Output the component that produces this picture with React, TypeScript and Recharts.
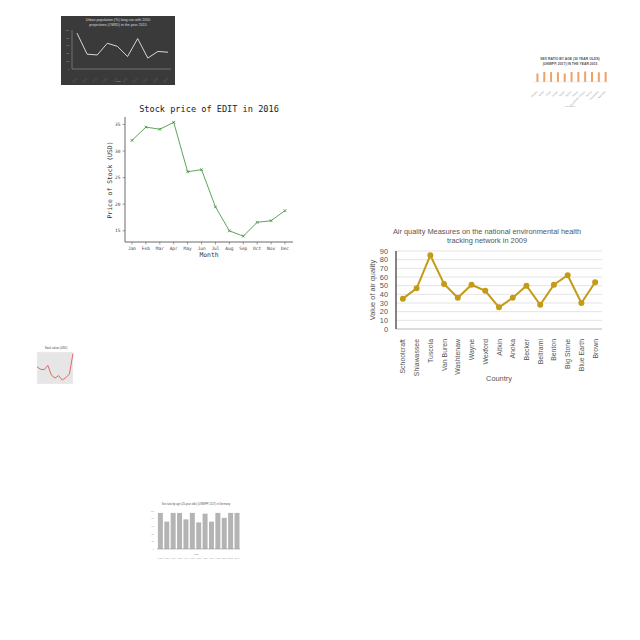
import React from 'react'
import { LineChart, Line, BarChart, Bar, XAxis, YAxis, CartesianGrid } from 'recharts'

// stock chart
const months = ['Jan', 'Feb', 'Mar', 'Apr', 'May', 'Jun', 'Jul', 'Aug', 'Sep', 'Oct', 'Nov', 'Dec']
const stockPrice = [32, 34.5, 34.1, 35.4, 26.1, 26.5, 19.5, 15, 14, 16.6, 16.9, 18.8]
const stockTicks = [15, 20, 25, 30, 35]

// air quality chart
const counties = ['Schoolcraft', 'Shiawassee', 'Tuscola', 'Van Buren', 'Washtenaw', 'Wayne', 'Wexford', 'Aitkin', 'Anoka', 'Becker', 'Beltrami', 'Benton', 'Big Stone', 'Blue Earth', 'Brown']
const airValues = [35, 47, 85, 52, 36, 51, 44, 25, 36, 50, 28, 51, 62, 30, 54]
const airTicks = [0, 10, 20, 30, 40, 50, 60, 70, 80, 90]

// thumbnails
const urbanYears = ['1950', '1960', '1970', '1980', '1990', '2000', '2010', '2020', '2030', '2040']
const urbanValues = [92, 38, 36, 66, 58, 32, 78, 28, 45, 43]
const sexGroups = ['Angola', 'Benin', 'Chad', 'Congo', 'Egypt', 'Gabon', 'Ghana', 'Equatorial Guinea', 'Kenya', 'Mauritania', 'Namibia']
const sexRatio = [0.86, 1.01, 0.99, 0.97, 0.85, 1.0, 0.99, 1.05, 1.0, 0.97, 1.0]
const redIdx = ['1', '2', '3', '4', '5', '6', '7', '8', '9', '10', '11']
const redValues = [35, 30, 29, 38, 18, 12, 17, 8, 13, 20, 62]
const grayCats = ['1950', '1955', '1960', '1965', '1970', '1975', '1980', '1985', '1990', '1995', '2000', '2005', '2010']
const grayValues = [95, 72, 95, 95, 78, 95, 70, 93, 72, 95, 82, 95, 95]

const stockData = months.map((m, i) => ({ m, v: stockPrice[i] }))
const airData = counties.map((c, i) => ({ c, v: airValues[i] }))
const urbanData = urbanYears.map((y, i) => ({ y, v: urbanValues[i] }))
const sexData = sexGroups.map((g, i) => ({ g, v: sexRatio[i] }))
const redData = redIdx.map((x, i) => ({ x, v: redValues[i] }))
const grayData = grayCats.map((c, i) => ({ c, v: grayValues[i] }))

const mono = '"DejaVu Sans Mono", monospace'
const sans = '"Liberation Sans", Arial, sans-serif'

const XMark = (p: any) => {
  const { cx, cy, index } = p
  if (cx == null) return null
  const s = 1.4
  return <path key={index} d={`M${cx - s},${cy - s}L${cx + s},${cy + s}M${cx - s},${cy + s}L${cx + s},${cy - s}`} stroke="#3f8f3f" strokeWidth={0.8} />
}

const RotTick = (p: any) => {
  const { x, y, payload } = p
  return (
    <text x={x} y={y + 2} transform={`rotate(-90 ${x} ${y + 2})`} textAnchor="end" dominantBaseline="central" fontSize={6.9} fill="#555" fontFamily={sans}>
      {payload.value}
    </text>
  )
}

const DiagTick = (p: any) => {
  const { x, y, payload, fill } = p
  return (
    <text x={x} y={y + 2} transform={`rotate(-45 ${x} ${y + 2})`} textAnchor="end" fontSize={2.5} fill={fill || '#ccc'} fontFamily={sans}>
      {payload.value}
    </text>
  )
}

const abs = (left: number, top: number, extra: React.CSSProperties = {}): React.CSSProperties => ({ position: 'absolute', left, top, ...extra })

export default function App() {
  return (
    <div style={{ position: 'absolute', left: 0, top: 0, width: 640, height: 640 }}>
      {/* dark urban chart */}
      <div style={abs(61, 16, { width: 114, height: 69, background: '#3a3a3a' })}>
        <div style={{ position: 'absolute', top: 2, width: 114, textAlign: 'center', color: '#ddd', fontSize: 3.6, lineHeight: '5px', fontFamily: sans }}>
          Urban population (%) long-run with 2050<br />projections (OWID) to the year 2015
        </div>
        <div style={{ position: 'absolute', top: 64, width: 114, textAlign: 'center', color: '#bbb', fontSize: 2.5, fontFamily: sans }}>Year</div>
        <LineChart width={114} height={69} data={urbanData} margin={{ top: 14, right: 4, left: 0, bottom: 0 }}>
          <XAxis dataKey="y" height={16} tick={<DiagTick />} tickLine={false} axisLine={{ stroke: '#aaa', strokeWidth: 0.5 }} interval={0} padding={{ left: 5, right: 3 }} />
          <YAxis domain={[0, 100]} ticks={[0, 20, 40, 60, 80, 100]} interval={0} width={11} tickSize={1} tick={{ fontSize: 2.5, fill: '#bbb' }} tickLine={false} axisLine={{ stroke: '#aaa', strokeWidth: 0.5 }} />
          <Line dataKey="v" stroke="#e8e8e8" strokeWidth={0.9} dot={false} isAnimationActive={false} />
        </LineChart>
      </div>

      {/* orange sex ratio chart */}
      <div style={abs(528, 55, { width: 84, height: 63 })}>
        <div style={{ position: 'absolute', top: 2, width: 84, textAlign: 'center', color: '#555', fontSize: 3.4, lineHeight: '4.5px', fontFamily: sans, fontWeight: 'bold' }}>
          SEX RATIO BY AGE (30 YEAR OLDS)<br />(UNWPP, 2017) IN THE YEAR 2015
        </div>
        <div style={{ position: 'absolute', top: 50, width: 84, textAlign: 'center', color: '#999', fontSize: 2.4, fontFamily: sans }}>Countries</div>
        <BarChart width={84} height={63} data={sexData} margin={{ top: 15, right: 3, left: 0, bottom: 0 }} barCategoryGap="36%">
          <XAxis dataKey="g" height={36} tick={<DiagTick fill="#999" />} tickLine={false} axisLine={{ stroke: '#ddd', strokeWidth: 0.5 }} interval={0} />
          <YAxis domain={[0, 1.2]} ticks={[0, 0.4, 0.8, 1.2]} width={6} tick={false} axisLine={false} tickLine={false} />
          <Bar dataKey="v" fill="#f0a064" isAnimationActive={false} />
        </BarChart>
      </div>

      {/* stock price chart */}
      <div style={abs(100, 104, { width: 218, textAlign: 'center', fontFamily: mono, fontSize: 8.6, color: '#222' })}>Stock price of EDIT in 2016</div>
      <div style={abs(100, 251, { width: 218, textAlign: 'center', fontFamily: mono, fontSize: 6.4, color: '#333' })}>Month</div>
      <div style={abs(110, 180, { fontFamily: mono, fontSize: 6.4, color: '#333', transform: 'translate(-50%, -50%) rotate(-90deg)', whiteSpace: 'nowrap' })}>Price of Stock (USD)</div>
      <div style={abs(100, 100)}>
        <LineChart width={200} height={165} data={stockData} margin={{ top: 17, right: 7, left: 0, bottom: 0 }}>
          <XAxis dataKey="m" height={23} padding={{ left: 7, right: 8 }} interval={0} tick={{ fontSize: 4.5, fill: '#444', fontFamily: mono }} tickSize={2.5} tickLine={{ stroke: '#444', strokeWidth: 0.5 }} axisLine={{ stroke: '#444', strokeWidth: 0.8 }} />
          <XAxis xAxisId="top" dataKey="m" orientation="top" height={0} tick={false} tickLine={false} axisLine={{ stroke: '#444', strokeWidth: 0.8 }} />
          <YAxis domain={[12.9, 36.4]} ticks={stockTicks} interval={0} allowDataOverflow width={25} tick={{ fontSize: 4.5, fill: '#444', fontFamily: mono }} tickSize={2.5} tickLine={{ stroke: '#444', strokeWidth: 0.5 }} axisLine={{ stroke: '#444', strokeWidth: 0.8 }} />
          <YAxis yAxisId="right" orientation="right" width={0} tick={false} tickLine={false} axisLine={{ stroke: '#444', strokeWidth: 0.8 }} />
          <Line dataKey="v" stroke="#4c9a4c" strokeWidth={0.9} dot={<XMark />} isAnimationActive={false} />
        </LineChart>
      </div>

      {/* air quality chart */}
      <div style={abs(365, 227, { width: 244, textAlign: 'center', fontFamily: sans, fontSize: 7.4, lineHeight: '9px', color: '#555' })}>
        Air quality Measures on the national environmental health<br />tracking network in 2009
      </div>
      <div style={abs(396, 374, { width: 206, textAlign: 'center', fontFamily: sans, fontSize: 7.4, color: '#555' })}>Country</div>
      <div style={abs(372, 290, { fontFamily: sans, fontSize: 7.4, color: '#555', transform: 'translate(-50%, -50%) rotate(-90deg)', whiteSpace: 'nowrap' })}>Value of air quality</div>
      <div style={abs(365, 222)}>
        <LineChart width={250} height={165} data={airData} margin={{ top: 29, right: 13, left: 0, bottom: 0 }}>
          <CartesianGrid vertical={false} stroke="#ddd" strokeWidth={0.8} />
          <XAxis dataKey="c" scale="band" height={58} interval={0} tick={<RotTick />} tickLine={false} axisLine={{ stroke: '#bbb', strokeWidth: 0.8 }} />
          <YAxis domain={[0, 90]} ticks={airTicks} interval={0} width={31} tick={{ fontSize: 7.4, fill: '#555', fontFamily: sans }} tickLine={false} axisLine={{ stroke: '#333', strokeWidth: 1.2 }} />
          <Line dataKey="v" stroke="#c49b17" strokeWidth={2} dot={{ r: 2, fill: '#c49b17', stroke: '#c49b17' }} isAnimationActive={false} />
        </LineChart>
      </div>

      {/* small red chart */}
      <div style={abs(30, 345, { width: 46, height: 43 })}>
        <div style={{ position: 'absolute', top: 2, left: 6, width: 40, textAlign: 'center', color: '#444', fontSize: 2.6, fontFamily: sans }}>Stock values (USD)</div>
        <LineChart width={46} height={43} data={redData} margin={{ top: 7, right: 3, left: 0, bottom: 0 }}>
          <CartesianGrid fill="#e6e6e6" stroke="#f6f6f6" strokeWidth={0.4} />
          <XAxis dataKey="x" height={4} tick={false} tickLine={false} axisLine={false} />
          <YAxis domain={[0, 65]} width={7} tick={false} tickLine={false} axisLine={false} />
          <Line dataKey="v" stroke="#de4a42" strokeWidth={0.8} dot={false} isAnimationActive={false} />
        </LineChart>
      </div>

      {/* bottom gray bar chart */}
      <div style={abs(150, 500, { width: 92, height: 64 })}>
        <div style={{ position: 'absolute', top: 3, width: 92, textAlign: 'center', color: '#555', fontSize: 2.6, fontFamily: sans }}>Sex ratio by age (20-year olds) (UNWPP, 2017) in Germany</div>
        <div style={{ position: 'absolute', top: 53, width: 92, textAlign: 'center', color: '#777', fontSize: 2.4, fontFamily: sans }}>Year</div>
        <BarChart width={92} height={64} data={grayData} margin={{ top: 11, right: 2, left: 0, bottom: 6 }} barCategoryGap="14%">
          <XAxis dataKey="c" height={9} tick={{ fontSize: 2.4, fill: '#888' }} tickLine={false} axisLine={{ stroke: '#999', strokeWidth: 0.6 }} interval={0} />
          <YAxis domain={[0, 100]} ticks={[0, 20, 40, 60, 80, 100]} interval={0} width={7} tickSize={1} tick={{ fontSize: 2.4, fill: '#888' }} tickLine={false} axisLine={false} />
          <Bar dataKey="v" fill="#b4b4b4" isAnimationActive={false} />
        </BarChart>
      </div>
    </div>
  )
}
